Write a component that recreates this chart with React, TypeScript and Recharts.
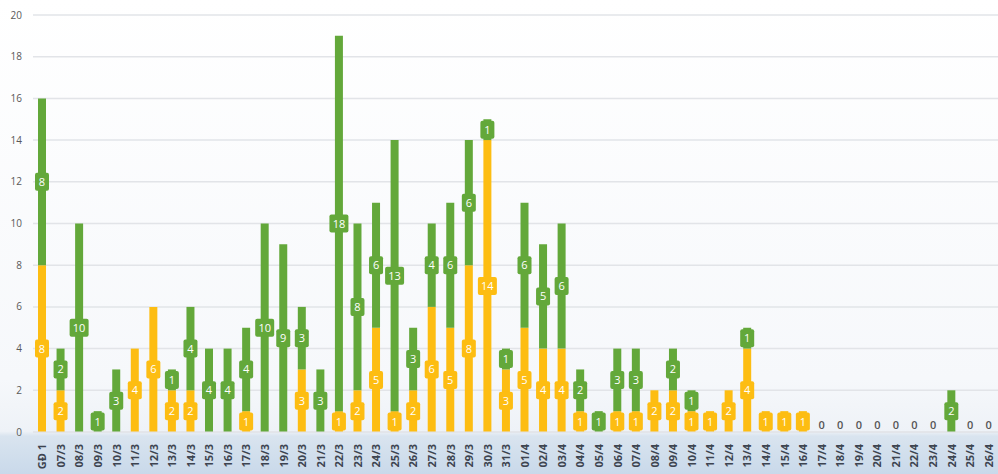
import { Bar, BarChart, CartesianGrid, LabelList, XAxis, YAxis } from "recharts";

const days = [
  "GĐ 1", "07/3", "08/3", "09/3", "10/3", "11/3", "12/3", "13/3", "14/3", "15/3",
  "16/3", "17/3", "18/3", "19/3", "20/3", "21/3", "22/3", "23/3", "24/3", "25/3",
  "26/3", "27/3", "28/3", "29/3", "30/3", "31/3", "01/4", "02/4", "03/4", "04/4",
  "05/4", "06/4", "07/4", "08/4", "09/4", "10/4", "11/4", "12/4", "13/4", "14/4",
  "15/4", "16/4", "17/4", "18/4", "19/4", "20/4", "21/4", "22/4", "23/4", "24/4",
  "25/4", "26/4",
];

const orangeCases = [
  8, 2, 0, 0, 0, 4, 6, 2, 2, 0,
  0, 1, 0, 0, 3, 0, 1, 2, 5, 1,
  2, 6, 5, 8, 14, 3, 5, 4, 4, 1,
  0, 1, 1, 2, 2, 1, 1, 2, 4, 1,
  1, 1, 0, 0, 0, 0, 0, 0, 0, 0,
  0, 0,
];

const greenCases = [
  8, 2, 10, 1, 3, 0, 0, 1, 4, 4,
  4, 4, 10, 9, 3, 3, 18, 8, 6, 13,
  3, 4, 6, 6, 1, 1, 6, 5, 6, 2,
  1, 3, 3, 0, 2, 1, 0, 0, 1, 0,
  0, 0, 0, 0, 0, 0, 0, 0, 0, 2,
  0, 0,
];

const yTicks = [0, 2, 4, 6, 8, 10, 12, 14, 16, 18, 20];

const ORANGE = "#fdbd12";
const GREEN = "#63a83a";

const data = days.map((day, i) => ({
  day,
  orange: orangeCases[i],
  green: greenCases[i],
}));

function boxLabel(color: string) {
  return (props: any) => {
    const { x, y, width, height, value } = props;
    if (!value) return null;
    const cx = x + width / 2;
    const cy = y + height / 2;
    const w = 9 + 5 * String(value).length;
    const h = 18;
    return (
      <g>
        <rect x={cx - w / 2} y={cy - h / 2} width={w} height={h} rx={2} fill={color} />
        <text
          x={cx}
          y={cy + 4}
          textAnchor="middle"
          fill="#fff"
          fontSize={11}
          fontFamily="Open Sans, sans-serif"
        >
          {value}
        </text>
      </g>
    );
  };
}

// day label, plus a "0" above the baseline on days with no cases at all
function DayTick(props: any) {
  const { x, y, payload, index } = props;
  const empty = !orangeCases[index] && !greenCases[index];
  return (
    <g>
      {empty && (
        <text
          x={x}
          y={y - 11}
          textAnchor="middle"
          fill="#555"
          fontSize={11}
          fontWeight={600}
          fontFamily="Open Sans, sans-serif"
        >
          0
        </text>
      )}
      <text
        transform={`translate(${x + 4},${y + 4}) rotate(-90)`}
        textAnchor="end"
        fill="#3d4450"
        fontSize={11}
        fontWeight={700}
        fontFamily="Open Sans, sans-serif"
      >
        {payload.value}
      </text>
    </g>
  );
}

export default function App() {
  return (
    <div
      style={{
        position: "absolute",
        left: 0,
        top: 0,
        width: 998,
        height: 474,
        background:
          "linear-gradient(to bottom, #ffffff 0%, #f6f8fb 80%, #eef2f7 91%, #d9e4ef 92%, #c9d9ea 100%)",
      }}
    >
      <BarChart
        width={998}
        height={474}
        data={data}
        margin={{ top: 15, right: 0, left: 0, bottom: 0 }}
        barSize={8}
      >
        <CartesianGrid vertical={false} stroke="#e2e4e8" strokeWidth={1.5} />
        <XAxis
          dataKey="day"
          interval={0}
          height={42}
          tick={<DayTick />}
          tickLine={false}
          axisLine={{ stroke: "#e2e4e8" }}
        />
        <YAxis
          width={33}
          domain={[0, 20]}
          ticks={yTicks}
          tickLine={false}
          axisLine={false}
          tickSize={0}
          tickMargin={11}
          tick={{ fill: "#595959", fontSize: 10, fontFamily: "Open Sans, sans-serif" }}
        />
        <Bar dataKey="orange" stackId="a" fill={ORANGE} isAnimationActive={false}>
          <LabelList dataKey="orange" content={boxLabel(ORANGE)} />
        </Bar>
        <Bar dataKey="green" stackId="a" fill={GREEN} isAnimationActive={false}>
          <LabelList dataKey="green" content={boxLabel(GREEN)} />
        </Bar>
      </BarChart>
    </div>
  );
}
